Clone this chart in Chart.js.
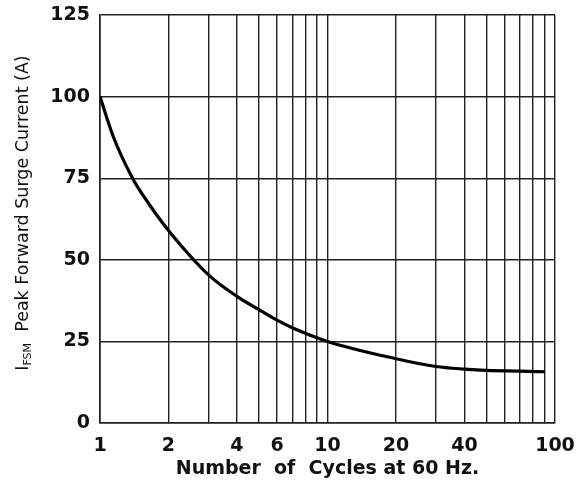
<!DOCTYPE html>
<html>
<head>
<meta charset="utf-8">
<script src="https://cdn.jsdelivr.net/npm/chart.js@4.4.0/dist/chart.umd.min.js"></script>
<style>
html, body { margin: 0; padding: 0; background: #fff; }
canvas { display: block; }
</style>
</head>
<body>
<canvas id="chart" width="577" height="486"></canvas>
<script>
// number of cycles (log axis) and peak surge current
const cycles = [1, 1.14, 1.39, 1.63, 2, 3, 4, 5, 6, 7, 10, 20, 30, 40, 50, 70, 90];
const surgeCurrent = [100, 88, 75, 67.4, 59, 45.4, 38.8, 34.7, 31.5, 29.2, 25, 19.7, 17.3, 16.5, 16.1, 15.9, 15.7];

// grid lines on the log axis and the ones that get a label
const xGridValues = [1, 2, 3, 4, 5, 6, 7, 8, 9, 10, 20, 30, 40, 50, 60, 70, 80, 90, 100];
const xTickLabels = [1, 2, 4, 6, 10, 20, 40, 100];

const tickFont = { family: 'DejaVu Sans', weight: 'bold', size: 19 };
const lineColor = '#222';

// y title has a subscript, so draw it by hand
const yTitlePlugin = {
    id: 'yTitle',
    afterDraw: function(chart) {
        const ctx = chart.ctx;
        const big = '17.5px "DejaVu Sans"';
        const small = '11px "DejaVu Sans"';
        const rest = '  Peak Forward Surge Current (A)';
        ctx.save();
        ctx.translate(22, 213);
        ctx.rotate(-Math.PI / 2);
        ctx.fillStyle = '#111';
        ctx.textBaseline = 'alphabetic';
        ctx.font = big;
        const wI = ctx.measureText('I').width;
        const wRest = ctx.measureText(rest).width;
        ctx.font = small;
        const wSub = ctx.measureText('FSM').width;
        let x = -(wI + wSub + wRest) / 2;
        ctx.font = big;
        ctx.fillText('I', x, 6);
        x += wI;
        ctx.font = small;
        ctx.fillText('FSM', x, 9);
        x += wSub;
        ctx.font = big;
        ctx.fillText(rest, x, 6);
        ctx.restore();
    }
};

const points = cycles.map((c, i) => ({ x: c, y: surgeCurrent[i] }));

new Chart(document.getElementById('chart').getContext('2d'), {
    type: 'line',
    data: {
        datasets: [{
            data: points,
            borderColor: '#000',
            borderWidth: 3.2,
            pointRadius: 0,
            fill: false,
            cubicInterpolationMode: 'monotone'
        }]
    },
    options: {
        responsive: false,
        animation: false,
        layout: { padding: { top: 15, right: 22, bottom: 0, left: 0 } },
        plugins: {
            legend: { display: false },
            tooltip: { enabled: false }
        },
        scales: {
            x: {
                type: 'logarithmic',
                min: 1,
                max: 100,
                afterBuildTicks: function(scale) {
                    scale.ticks = xGridValues.map(v => ({ value: v }));
                },
                afterFit: function(scale) {
                    scale.height = 63;
                    // labels may hang over the edges, don't shrink the plot for them
                    scale.paddingLeft = 0;
                    scale.paddingRight = 0;
                },
                grid: { color: lineColor, lineWidth: 1.4, drawTicks: false },
                border: { color: lineColor, width: 1.6 },
                ticks: {
                    autoSkip: false,
                    maxRotation: 0,
                    padding: 12,
                    color: '#111',
                    font: tickFont,
                    callback: function(value) {
                        return xTickLabels.includes(value) ? String(value) : '';
                    }
                },
                title: {
                    display: true,
                    text: 'Number  of  Cycles at 60 Hz.',
                    color: '#111',
                    font: { family: 'DejaVu Sans', weight: 'bold', size: 19 },
                    padding: { top: 2, bottom: 6 }
                }
            },
            y: {
                min: 0,
                max: 125,
                afterFit: function(scale) {
                    scale.width = 100;
                    scale.paddingTop = 0;
                    scale.paddingBottom = 0;
                },
                grid: { color: lineColor, lineWidth: 1.4, drawTicks: false },
                border: { color: lineColor, width: 1.6 },
                ticks: {
                    stepSize: 25,
                    padding: 10,
                    color: '#111',
                    font: tickFont
                }
            }
        }
    },
    plugins: [yTitlePlugin]
});
</script>
</body>
</html>
